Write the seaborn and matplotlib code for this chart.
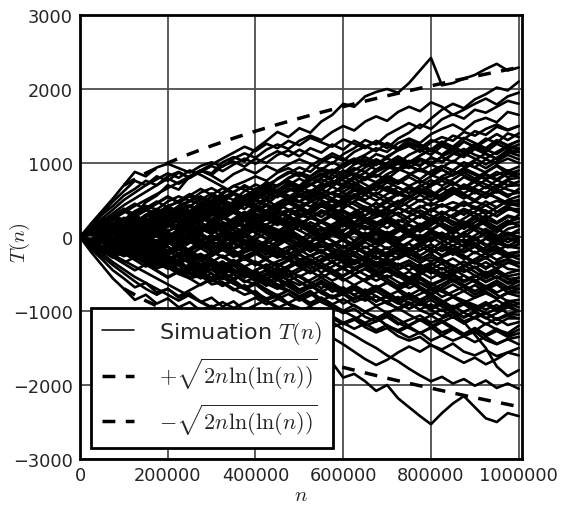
import matplotlib
matplotlib.use('Agg')
import matplotlib.pyplot as plt
import seaborn as sns
import pandas as pd
from matplotlib.lines import Line2D

# sample points of the walks (every 25000 steps)
n_vals = list(range(0, 1000001, 25000))

# T(n), one list per walk
walks = [
    [0, 150, 90, 260, 380, 300, 470, 560, 700, 640, 820, 900, 860, 1010, 1080, 1020, 1190, 1300, 1420, 1350, 1470, 1410, 1560, 1650, 1800, 1760, 1900, 1960, 2000, 1950, 2080, 2250, 2420, 2050, 2080, 2140, 2190, 2270, 2340, 2250, 2290],
    [0, -80, 40, 170, 120, 260, 200, 330, 410, 350, 280, 390, 450, 560, 500, 620, 710, 650, 790, 880, 820, 960, 1050, 990, 1120, 1200, 1310, 1250, 1380, 1460, 1540, 1470, 1600, 1720, 1800, 1740, 1860, 1930, 2020, 1980, 2100],
    [0, 180, 350, 520, 700, 880, 820, 940, 990, 930, 870, 960, 1010, 950, 1060, 1130, 1070, 1180, 1250, 1190, 1300, 1370, 1310, 1420, 1500, 1440, 1560, 1630, 1570, 1690, 1760, 1700, 1820, 1760, 1650, 1720, 1800, 1870, 1790, 1900, 1950],
    [0, -60, 90, 30, 180, 260, 190, 320, 270, 400, 480, 550, 470, 600, 690, 640, 560, 700, 780, 860, 940, 880, 1010, 1090, 1030, 1150, 1220, 1290, 1200, 1330, 1410, 1520, 1460, 1590, 1660, 1600, 1720, 1680, 1760, 1840, 1800],
    [0, 130, 60, -20, 90, 40, 160, 250, 330, 280, 210, 340, 420, 370, 480, 560, 630, 580, 700, 760, 690, 820, 900, 850, 960, 1040, 1110, 1200, 1150, 1270, 1330, 1270, 1390, 1460, 1520, 1440, 1560, 1610, 1550, 1690, 1650],
    [0, -110, -40, 80, 10, 140, 230, 170, 290, 370, 300, 420, 500, 440, 360, 470, 550, 630, 590, 700, 650, 760, 840, 910, 860, 980, 1040, 970, 1090, 1170, 1230, 1150, 1280, 1350, 1300, 1420, 1370, 1460, 1520, 1450, 1500],
    [0, 70, -50, 40, 180, 120, 60, 170, 250, 190, 320, 380, 460, 400, 330, 450, 520, 600, 540, 660, 620, 700, 780, 720, 850, 930, 880, 990, 1060, 1000, 1110, 1180, 1110, 1230, 1160, 1290, 1220, 1330, 1270, 1400, 1350],
    [0, -90, -170, -60, 50, -20, 110, 60, 180, 250, 190, 300, 240, 350, 430, 380, 500, 440, 560, 620, 690, 610, 720, 680, 790, 860, 800, 910, 980, 920, 1030, 960, 1080, 1010, 1120, 1190, 1110, 1060, 1150, 1230, 1200],
    [0, 160, 320, 480, 620, 760, 700, 820, 760, 870, 800, 900, 830, 740, 850, 920, 860, 960, 890, 980, 1050, 990, 910, 1010, 940, 1030, 960, 1050, 980, 900, 990, 1060, 1000, 1080, 1010, 1130, 1060, 980, 1070, 1150, 1100],
    [0, -40, 100, 180, 110, 30, 140, 220, 160, 80, 190, 270, 330, 260, 380, 450, 400, 320, 430, 510, 470, 560, 640, 580, 700, 650, 580, 690, 770, 720, 840, 910, 850, 960, 890, 1010, 940, 1050, 990, 1060, 1000],
    [0, 90, 190, 120, 40, 150, 230, 300, 250, 370, 430, 360, 480, 540, 600, 530, 650, 720, 680, 790, 860, 800, 730, 840, 770, 690, 800, 740, 850, 920, 860, 780, 890, 960, 900, 1000, 940, 870, 960, 850, 900],
    [0, -130, -60, -150, -70, 50, -10, 100, 170, 240, 180, 110, 220, 290, 360, 300, 420, 350, 460, 540, 480, 410, 520, 600, 550, 660, 600, 710, 650, 580, 690, 760, 700, 820, 890, 830, 760, 850, 780, 870, 800],
    [0, 110, 30, -60, 20, -80, 30, 130, 70, 180, 260, 200, 310, 380, 330, 250, 360, 440, 390, 500, 570, 630, 560, 680, 600, 520, 630, 700, 650, 760, 690, 610, 720, 800, 740, 660, 770, 710, 650, 760, 700],
    [0, 50, -70, -10, -130, -40, -170, -90, 20, -50, 60, 140, 90, 200, 150, 260, 320, 250, 180, 290, 360, 300, 420, 490, 430, 540, 470, 400, 510, 580, 520, 640, 570, 490, 600, 680, 620, 540, 650, 570, 600],
    [0, -60, 40, -70, 30, 150, 220, 160, 280, 210, 130, 240, 310, 260, 180, 290, 350, 420, 360, 480, 550, 490, 410, 520, 450, 560, 630, 570, 680, 610, 540, 650, 590, 510, 620, 560, 480, 590, 530, 460, 500],
    [0, 140, 220, 290, 230, 350, 420, 370, 480, 550, 490, 600, 660, 580, 690, 750, 820, 760, 870, 930, 850, 770, 840, 760, 680, 790, 710, 630, 740, 670, 590, 700, 620, 540, 650, 580, 500, 600, 530, 450, 420],
    [0, -100, -190, -130, -240, -170, -80, -160, -60, 40, -30, 80, 150, 90, 200, 130, 60, 170, 240, 180, 300, 250, 360, 300, 230, 340, 410, 350, 280, 390, 330, 260, 370, 440, 380, 300, 410, 350, 280, 390, 330],
    [0, 80, -30, -110, -40, -150, -80, -200, -130, -230, -160, -60, -140, -40, 60, 0, 110, 50, -30, 80, 160, 110, 220, 150, 80, 190, 260, 200, 120, 230, 170, 90, 200, 270, 210, 140, 250, 190, 110, 200, 250],
    [0, -50, 60, -20, 90, 170, 100, 210, 280, 220, 150, 260, 190, 100, 20, 130, 60, -30, 80, 160, 90, 200, 130, 60, -20, 90, 20, -70, 40, 120, 60, -20, 90, 30, -50, 60, 140, 80, 0, 110, 150],
    [0, 120, 40, 160, 90, 200, 270, 340, 280, 400, 330, 250, 360, 290, 200, 120, 230, 150, 60, 170, 90, 10, 120, 50, -40, 70, 150, 80, 0, 110, 30, -60, 50, -30, 80, 170, 90, 10, -60, 40, 60],
    [0, -140, -70, -190, -120, -240, -320, -260, -370, -300, -220, -330, -260, -170, -250, -160, -70, -150, -60, 30, -50, 60, -20, 80, 160, 100, 10, 120, 50, -30, 80, -10, 90, 20, -60, 40, -40, 70, -20, 60, 0],
    [0, 60, 150, 80, 190, 120, 40, -60, 20, -90, -20, -130, -60, 40, -40, 70, 140, 60, -30, 80, 10, -80, 30, -50, -140, -60, -150, -80, 20, -70, 30, -50, 50, -40, -120, -30, -110, -20, -100, -10, -80],
    [0, -70, -160, -90, -200, -280, -210, -320, -250, -160, -240, -150, -60, -130, -40, 50, -30, -110, -200, -130, -220, -140, -50, -130, -30, 60, -20, -100, -20, -110, -190, -120, -210, -130, -50, -130, -220, -140, -60, -130, -150],
    [0, 100, 190, 260, 200, 310, 380, 310, 240, 350, 280, 200, 110, 190, 100, 20, 120, 40, -50, 40, -40, -130, -60, -150, -230, -160, -70, -150, -230, -160, -250, -180, -100, -190, -120, -210, -130, -230, -160, -260, -200],
    [0, -40, -150, -220, -160, -270, -340, -420, -350, -460, -390, -500, -430, -350, -440, -520, -450, -370, -460, -390, -300, -380, -300, -210, -290, -370, -290, -200, -280, -190, -270, -350, -270, -360, -290, -380, -300, -220, -310, -240, -300],
    [0, 90, 20, -70, 10, -90, -180, -110, -30, -130, -60, -150, -240, -170, -260, -190, -110, -200, -280, -210, -300, -370, -310, -230, -320, -240, -330, -410, -340, -430, -360, -450, -380, -300, -390, -470, -400, -490, -420, -340, -400],
    [0, -120, -60, -170, -100, -20, -110, -40, -130, -220, -300, -230, -310, -390, -310, -400, -330, -420, -500, -420, -340, -430, -350, -440, -530, -450, -380, -470, -550, -480, -570, -490, -410, -500, -430, -520, -600, -520, -440, -530, -500],
    [0, 40, 130, 60, 170, 100, 210, 130, 40, -50, 20, -80, -160, -90, -180, -260, -190, -280, -220, -310, -380, -320, -410, -340, -430, -500, -430, -520, -460, -540, -470, -560, -640, -580, -500, -590, -520, -610, -540, -630, -600],
    [0, -90, -20, -130, -210, -280, -220, -330, -410, -340, -450, -380, -300, -390, -460, -540, -470, -560, -490, -580, -650, -580, -500, -590, -520, -430, -510, -590, -520, -610, -690, -620, -710, -640, -560, -650, -730, -660, -750, -680, -700],
    [0, 150, 80, 200, 130, 40, 150, 80, -10, -90, -20, -110, -200, -130, -220, -290, -220, -310, -380, -310, -400, -470, -400, -490, -420, -510, -590, -520, -610, -680, -610, -700, -780, -710, -800, -730, -820, -740, -830, -760, -800],
    [0, -80, -170, -110, -220, -150, -260, -340, -280, -390, -460, -390, -500, -570, -500, -610, -540, -630, -700, -630, -720, -650, -740, -820, -750, -840, -770, -690, -780, -860, -790, -880, -810, -900, -980, -910, -1000, -920, -850, -940, -900],
    [0, 60, -50, -130, -60, -170, -100, -210, -280, -360, -290, -400, -330, -420, -500, -430, -540, -610, -550, -640, -720, -650, -740, -670, -760, -840, -780, -870, -800, -890, -970, -900, -990, -1070, -1000, -1090, -1020, -1100, -1030, -950, -1000],
    [0, -110, -40, -150, -230, -160, -270, -200, -310, -240, -350, -420, -350, -460, -390, -480, -560, -490, -580, -510, -600, -680, -610, -700, -780, -710, -800, -730, -820, -900, -830, -920, -850, -940, -1020, -1150, -1320, -1500, -1750, -1880, -1800],
    [0, -60, -150, -90, -200, -270, -350, -280, -390, -460, -540, -470, -580, -650, -580, -690, -620, -710, -790, -720, -810, -890, -820, -910, -840, -930, -1010, -940, -1030, -960, -1050, -1130, -1060, -1150, -1080, -1170, -1090, -1180, -1100, -1190, -1150],
    [0, -200, -380, -560, -700, -850, -780, -900, -830, -950, -880, -1000, -930, -1050, -980, -1100, -1030, -1150, -1080, -1200, -1130, -1050, -1140, -1070, -1160, -1240, -1170, -1260, -1190, -1280, -1210, -1300, -1230, -1150, -1240, -1320, -1250, -1340, -1270, -1350, -1300],
    [0, -50, -140, -80, -190, -120, -230, -310, -390, -320, -430, -510, -590, -520, -630, -700, -780, -860, -940, -1020, -1100, -1180, -1270, -1360, -1450, -1550, -1650, -1730, -1660, -1560, -1480, -1550, -1460, -1540, -1620, -1700, -1630, -1720, -1650, -1560, -1600],
    [0, 70, -20, -110, -50, -160, -240, -310, -250, -360, -430, -510, -440, -550, -630, -700, -640, -750, -830, -910, -1000, -940, -1060, -1150, -1250, -1330, -1420, -1500, -1600, -1680, -1780, -1870, -1950, -1890, -1980, -1920, -2010, -1940, -2040, -1980, -2050],
    [0, -90, -170, -110, -220, -300, -240, -350, -430, -370, -480, -560, -490, -620, -720, -650, -780, -870, -960, -1100, -1250, -1400, -1550, -1700, -1900, -1850, -1950, -2080, -2000, -2180, -2300, -2420, -2530, -2380, -2250, -2150, -2300, -2450, -2500, -2380, -2420],
    [0, 120, 40, -50, 30, -80, -160, -90, -200, -130, -240, -320, -400, -330, -440, -520, -450, -560, -640, -720, -800, -730, -840, -920, -1000, -1080, -1160, -1090, -1200, -1280, -1360, -1290, -1400, -1330, -1250, -1340, -1420, -1350, -1440, -1380, -1450],
    [0, -60, -140, -220, -150, -80, -170, -90, 0, -80, 20, 110, 40, 130, 210, 150, 230, 300, 220, 140, 230, 160, 80, 170, 250, 180, 100, 190, 270, 200, 280, 360, 290, 210, 300, 380, 320, 250, 330, 410, 350],
    [0, 110, 200, 130, 240, 170, 80, 190, 270, 190, 110, 30, -50, 20, -70, -150, -80, -170, -250, -180, -100, -180, -100, -190, -270, -200, -290, -370, -300, -390, -320, -410, -490, -420, -500, -430, -520, -600, -530, -610, -550],
    [0, -70, 40, 130, 60, 170, 100, 220, 300, 240, 350, 280, 390, 470, 400, 510, 580, 660, 600, 710, 640, 560, 670, 750, 680, 790, 870, 810, 920, 990, 930, 1040, 970, 1090, 1160, 1100, 1210, 1150, 1260, 1190, 1250],
    [0, 50, -40, -120, -50, -150, -230, -170, -260, -340, -270, -370, -440, -370, -480, -400, -490, -570, -500, -590, -520, -610, -690, -620, -710, -780, -710, -800, -880, -810, -900, -980, -910, -1000, -930, -1020, -1100, -1030, -1110, -1040, -1050],
    [0, 90, 180, 100, 10, 120, 200, 130, 240, 310, 250, 360, 290, 400, 330, 440, 500, 430, 350, 460, 400, 320, 430, 500, 440, 550, 620, 550, 470, 580, 650, 580, 690, 760, 700, 810, 740, 660, 770, 700, 750],
    [0, -90, -10, 110, 30, -70, 40, 150, 70, -30, 80, 190, 100, 0, 110, 220, 130, 30, -60, 50, 160, 70, -40, 60, 170, 80, -20, 90, 200, 110, 10, 120, 230, 140, 40, 150, 250, 160, 60, 190, 300],
    [0, 70, 160, 60, -40, -130, -60, -170, -90, 20, 110, 40, -60, -150, -80, 20, -70, -160, -250, -170, -70, -160, -60, 40, -50, -140, -230, -140, -40, -130, -220, -310, -220, -120, -210, -300, -200, -290, -190, -280, -250],
    [0, -110, -20, 70, 160, 90, 190, 280, 200, 110, 200, 290, 210, 120, 220, 310, 230, 330, 250, 160, 260, 350, 270, 370, 290, 200, 290, 380, 300, 400, 320, 420, 340, 440, 360, 460, 380, 480, 400, 500, 550],
    [0, 100, 20, -70, -160, -80, -170, -260, -180, -270, -180, -90, -180, -270, -360, -280, -370, -290, -200, -290, -380, -300, -390, -480, -400, -310, -400, -490, -410, -500, -590, -510, -420, -510, -600, -520, -610, -700, -620, -710, -650],
    [0, 80, 170, 90, 0, 100, 190, 110, 210, 300, 220, 320, 240, 150, 250, 340, 260, 360, 450, 370, 280, 380, 470, 390, 490, 580, 500, 600, 520, 430, 530, 620, 540, 640, 730, 650, 750, 840, 760, 860, 850],
    [0, -60, -150, -240, -150, -60, -150, -240, -330, -250, -340, -260, -350, -440, -350, -260, -350, -440, -360, -450, -540, -460, -550, -470, -560, -650, -570, -480, -570, -660, -580, -670, -760, -680, -590, -680, -770, -690, -780, -870, -850],
    [0, 130, 50, 160, 80, -20, 90, 10, -90, 20, 130, 50, -50, 60, -40, 70, 180, 90, 0, 110, 20, -80, 30, 140, 50, -50, 60, -40, 70, -30, 80, -20, 90, -10, 100, 0, 110, 10, 120, 20, 100],
    [0, -130, -50, 40, -50, -150, -60, 30, -70, -170, -80, 20, -80, -180, -90, 10, -90, -190, -100, 0, -100, -200, -110, -210, -120, -220, -130, -230, -140, -240, -150, -250, -160, -260, -170, -270, -360, -280, -380, -300, -400],
    [0, 60, -30, 60, 150, 240, 160, 250, 170, 80, 170, 260, 180, 270, 360, 280, 190, 280, 370, 290, 380, 300, 210, 300, 390, 480, 400, 310, 400, 490, 410, 500, 420, 510, 600, 520, 610, 530, 620, 540, 650],
    [0, -40, 50, -40, -130, -220, -140, -230, -320, -240, -330, -420, -340, -250, -340, -430, -520, -440, -530, -450, -540, -630, -550, -640, -730, -650, -740, -660, -750, -840, -760, -850, -770, -860, -950, -870, -960, -880, -970, -890, -950],
    [0, 100, 190, 280, 200, 110, 200, 290, 380, 300, 210, 300, 390, 310, 400, 490, 410, 320, 410, 500, 590, 510, 600, 520, 610, 700, 620, 710, 800, 720, 810, 730, 820, 910, 830, 920, 1010, 930, 1020, 1110, 1050],
    [0, -80, 10, -80, -170, -90, -180, -100, -10, -100, -190, -110, -20, 70, -20, -110, -30, 60, -30, 60, 150, 60, -30, 80, -20, -120, -50, 40, -60, -150, -70, 30, -60, 50, -40, -130, -40, 60, -50, 40, -30],
    [0, 90, 0, -90, 0, 90, 180, 100, 10, 100, 190, 280, 200, 110, 20, 110, 200, 120, 30, 120, 210, 130, 40, 130, 220, 310, 230, 140, 230, 150, 60, 150, 240, 160, 70, 160, 250, 170, 80, 170, 200],
    [0, -100, -190, -110, -20, -110, -200, -290, -210, -120, -210, -300, -220, -130, -220, -310, -230, -140, -230, -320, -240, -330, -250, -340, -430, -350, -260, -350, -440, -360, -450, -370, -460, -550, -470, -380, -470, -560, -480, -570, -550],
    [0, 50, 140, 50, -40, 50, -40, 50, 140, 230, 150, 60, 150, 240, 330, 250, 160, 250, 340, 260, 170, 260, 350, 270, 180, 270, 360, 280, 370, 290, 200, 290, 380, 300, 390, 480, 400, 310, 400, 490, 480],
    [0, -70, -160, -250, -170, -260, -350, -270, -360, -450, -370, -460, -550, -470, -560, -480, -570, -660, -580, -670, -760, -680, -590, -680, -770, -690, -780, -870, -790, -880, -970, -890, -980, -900, -990, -1080, -1000, -1090, -1180, -1100, -1100],
    [0, 110, 200, 290, 210, 300, 390, 480, 400, 490, 580, 500, 590, 510, 420, 510, 600, 690, 610, 700, 790, 710, 800, 890, 810, 900, 990, 910, 1000, 1090, 1010, 1100, 1190, 1110, 1200, 1290, 1210, 1300, 1390, 1310, 1400],
    [0, -120, -210, -130, -220, -310, -400, -320, -410, -500, -420, -510, -600, -520, -610, -700, -620, -710, -800, -720, -810, -900, -820, -910, -1000, -920, -1010, -1100, -1020, -1110, -1200, -1120, -1210, -1130, -1220, -1310, -1230, -1320, -1240, -1330, -1250],
    [0, 40, -50, 40, 130, 50, 140, 60, -30, 60, 150, 70, 160, 80, -10, 80, 170, 90, 0, 90, 180, 100, 10, 100, 190, 110, 20, 110, 20, -70, 20, -70, -160, -70, 20, -70, 20, 110, 20, -70, 0],
    [0, -50, -140, -50, 40, -50, 40, 130, 220, 140, 230, 150, 60, 150, 240, 160, 250, 340, 260, 350, 270, 360, 450, 370, 460, 380, 290, 380, 470, 390, 480, 570, 490, 580, 670, 590, 680, 770, 690, 780, 800],
    [0, 90, 0, -90, 0, -90, -180, -100, -190, -110, -200, -290, -210, -120, -210, -300, -220, -310, -400, -320, -230, -320, -410, -330, -420, -510, -430, -520, -440, -530, -620, -540, -630, -720, -640, -730, -650, -740, -830, -750, -750],
    [0, -90, -180, -100, -190, -110, -20, 70, -10, 80, 170, 90, 180, 100, 10, 100, 190, 110, 200, 120, 210, 130, 220, 310, 230, 140, 230, 320, 240, 330, 250, 160, 250, 340, 260, 350, 270, 360, 280, 370, 380],
    [0, 120, 210, 130, 220, 140, 50, 140, 60, -30, 60, -30, -120, -40, 50, -40, -130, -50, 40, -50, -140, -60, 30, -60, -150, -70, 20, -70, -160, -80, -170, -90, 0, -90, -180, -100, -10, -100, -190, -110, -150],
    [0, 60, 150, 240, 160, 70, 160, 250, 340, 260, 170, 260, 350, 270, 360, 450, 370, 280, 370, 460, 380, 470, 560, 480, 390, 480, 570, 490, 580, 670, 590, 680, 770, 690, 780, 870, 790, 880, 970, 890, 950],
    [0, -90, 0, 90, 180, 100, 190, 110, 20, -70, 20, -70, -160, -80, 10, -80, -170, -90, 0, -90, -180, -100, -190, -280, -200, -110, -200, -290, -210, -300, -220, -310, -230, -320, -410, -330, -420, -340, -430, -350, -350],
    [0, 90, 180, 270, 360, 450, 370, 460, 550, 470, 560, 650, 570, 660, 580, 490, 580, 500, 410, 500, 420, 330, 420, 340, 250, 340, 260, 170, 260, 180, 90, 180, 100, 190, 110, 200, 120, 210, 130, 220, 150],
    [0, -90, -180, -270, -360, -450, -370, -460, -550, -470, -560, -650, -570, -660, -580, -490, -580, -500, -410, -500, -420, -330, -420, -340, -250, -340, -260, -170, -260, -180, -90, -180, -100, -190, -110, -200, -120, -210, -130, -220, -200],
    [0, -60, 30, 120, 40, 130, 220, 140, 230, 320, 240, 330, 420, 340, 430, 520, 440, 530, 620, 540, 630, 720, 640, 730, 820, 740, 650, 740, 830, 750, 840, 930, 850, 940, 1030, 950, 1040, 1130, 1050, 1140, 1150],
    [0, 70, 160, 80, 170, 90, 0, -90, 0, -90, -180, -100, -190, -280, -200, -290, -380, -300, -390, -310, -400, -490, -410, -500, -590, -510, -600, -690, -610, -700, -790, -710, -800, -890, -810, -900, -990, -910, -1000, -920, -1000],
    [0, -100, -190, -280, -200, -290, -210, -120, -30, -120, -40, 50, -40, 50, 140, 60, 150, 240, 160, 250, 170, 260, 350, 270, 360, 280, 370, 460, 380, 470, 560, 480, 570, 490, 580, 670, 590, 680, 600, 690, 700],
    [0, 110, 200, 290, 380, 300, 210, 120, 210, 120, 30, -60, 30, -60, -150, -60, -150, -240, -150, -240, -330, -250, -340, -260, -350, -440, -360, -450, -370, -460, -550, -470, -560, -480, -570, -660, -580, -670, -590, -680, -600],
    [0, -50, 40, -50, -140, -230, -150, -240, -330, -250, -160, -70, -160, -70, 20, -70, 20, 110, 20, 110, 200, 110, 200, 290, 200, 110, 200, 110, 20, 110, 200, 290, 200, 290, 200, 110, 200, 290, 200, 290, 250],
    [0, 80, 170, 260, 350, 270, 360, 450, 540, 460, 550, 470, 380, 470, 380, 290, 380, 290, 200, 290, 200, 110, 200, 110, 20, 110, 20, -70, 20, -70, -160, -70, -160, -250, -160, -250, -340, -430, -340, -430, -450],
    [0, -80, -170, -260, -350, -270, -360, -450, -540, -460, -550, -470, -380, -470, -380, -290, -380, -290, -200, -290, -200, -110, -200, -110, -20, -110, -20, 70, -20, 70, 160, 70, 160, 250, 160, 250, 340, 430, 340, 430, 450],
    [0, 60, -30, -120, -30, 60, -30, -120, -210, -120, -30, 60, 150, 60, 150, 240, 150, 60, -30, 60, -30, -120, -210, -120, -30, -120, -210, -300, -210, -120, -210, -120, -30, 60, -30, 60, -30, -120, -30, -120, -50],
    [0, 130, 220, 150, 260, 190, 300, 380, 310, 420, 350, 460, 540, 470, 580, 510, 620, 700, 630, 740, 670, 780, 860, 790, 900, 830, 940, 1020, 950, 1060, 990, 1100, 1180, 1110, 1220, 1150, 1260, 1190, 1300, 1230, 1300],
    [0, -60, -180, -230, -150, -270, -330, -420, -380, -500, -560, -520, -640, -610, -700, -780, -730, -850, -800, -900, -980, -1050, -970, -1100, -1180, -1120, -1020, -1080, -1200, -1260, -1190, -1110, -1180, -1290, -1230, -1320, -1270, -1170, -1250, -1300, -1200],
    [0, 80, 30, -60, -20, -130, -200, -150, -260, -320, -270, -380, -450, -390, -500, -590, -640, -560, -680, -730, -820, -760, -880, -950, -1030, -970, -1080, -1140, -1050, -1160, -1230, -1300, -1220, -1330, -1400, -1340, -1280, -1390, -1450, -1380, -1350],
    [0, -120, -70, -190, -260, -200, -310, -380, -330, -440, -500, -460, -570, -640, -590, -700, -760, -830, -780, -900, -960, -1040, -990, -1090, -1170, -1110, -1220, -1290, -1230, -1340, -1400, -1350, -1460, -1520, -1440, -1550, -1600, -1530, -1610, -1560, -1500],
    [0, 40, 130, 70, -20, -90, -40, -150, -220, -170, -280, -230, -340, -410, -350, -460, -520, -450, -560, -500, -610, -690, -630, -740, -680, -790, -860, -800, -900, -960, -880, -990, -1050, -980, -1090, -1010, -940, -1040, -970, -860, -900],
    [0, -100, -160, -110, -210, -150, -260, -200, -310, -250, -360, -430, -380, -490, -440, -550, -480, -590, -660, -600, -710, -650, -760, -830, -770, -880, -820, -930, -870, -980, -910, -850, -950, -880, -810, -890, -820, -760, -830, -750, -700],
    [0, 60, 150, 110, 200, 130, 240, 190, 80, 140, 30, -40, 20, -90, -160, -100, -210, -150, -260, -200, -310, -250, -180, -290, -230, -340, -280, -390, -330, -440, -380, -490, -430, -360, -460, -400, -330, -410, -340, -300, -350],
    [0, 90, 50, 160, 230, 180, 290, 360, 310, 420, 490, 440, 550, 500, 610, 680, 630, 740, 690, 800, 870, 820, 930, 880, 990, 1060, 1010, 1120, 1070, 1180, 1250, 1200, 1310, 1260, 1370, 1320, 1430, 1380, 1490, 1440, 1500],
    [0, -70, -20, -110, -50, 60, 10, 120, 190, 140, 250, 200, 310, 380, 330, 440, 390, 500, 570, 520, 630, 580, 690, 760, 710, 820, 770, 880, 950, 900, 1010, 960, 1070, 1020, 1130, 1080, 1190, 1120, 1060, 1180, 1150],
    [0, 110, 180, 120, 230, 170, 280, 350, 290, 400, 340, 450, 390, 500, 440, 550, 490, 600, 540, 650, 590, 530, 640, 580, 520, 630, 570, 680, 620, 560, 670, 610, 550, 660, 600, 710, 650, 590, 700, 640, 600],
    [0, -40, -130, -80, -190, -130, -240, -180, -290, -230, -170, -280, -220, -160, -270, -210, -150, -60, -120, -30, -90, 0, -60, 30, -30, 60, 0, 90, 30, 120, 60, 150, 90, 180, 120, 210, 150, 240, 180, 270, 250],
    [0, 130, 70, 180, 240, 190, 300, 250, 360, 300, 410, 350, 290, 400, 340, 280, 220, 330, 270, 210, 150, 260, 200, 140, 80, 190, 130, 70, 10, 120, 60, 0, -60, 50, -10, -70, -130, -20, -80, -140, -100],
    [0, -50, 40, -20, 70, 10, -60, 30, -30, -100, -40, -120, -60, -150, -90, -170, -110, -200, -140, -230, -170, -260, -200, -290, -230, -320, -260, -350, -290, -380, -320, -410, -350, -440, -380, -470, -410, -530, -470, -560, -600],
    [0, 100, 170, 240, 190, 300, 360, 310, 420, 470, 410, 520, 460, 400, 340, 280, 220, 160, 100, 40, -20, -80, -140, -90, -200, -260, -320, -380, -440, -500, -560, -620, -680, -740, -800, -860, -920, -980, -920, -1040, -1000],
    [0, -110, -60, -170, -230, -180, -290, -350, -300, -240, -180, -120, -60, 0, 60, 120, 180, 240, 300, 360, 420, 480, 540, 600, 660, 720, 780, 840, 780, 900, 960, 900, 840, 780, 840, 900, 840, 780, 840, 900, 850],
    [0, 70, 130, 80, -10, 50, -40, 20, -70, -10, 50, 110, 170, 120, 180, 240, 300, 250, 310, 370, 320, 260, 320, 380, 330, 270, 210, 270, 330, 390, 340, 400, 460, 410, 470, 420, 480, 430, 490, 440, 450],
    [0, -30, -120, -180, -130, -240, -300, -360, -310, -370, -430, -490, -440, -500, -560, -510, -450, -390, -330, -270, -210, -150, -210, -270, -210, -150, -210, -270, -330, -270, -210, -270, -330, -270, -210, -270, -330, -270, -210, -270, -250],
    [0, 150, 300, 420, 560, 650, 760, 700, 820, 880, 800, 900, 840, 960, 1020, 950, 1060, 1000, 1110, 1170, 1090, 1200, 1140, 1250, 1180, 1300, 1230, 1160, 1270, 1200, 1320, 1250, 1180, 1290, 1220, 1340, 1270, 1200, 1310, 1240, 1300],
    [0, -160, -300, -450, -560, -680, -620, -750, -700, -820, -760, -880, -820, -940, -870, -990, -920, -850, -960, -890, -820, -930, -860, -790, -900, -830, -760, -870, -800, -730, -840, -770, -700, -810, -740, -670, -780, -710, -640, -750, -700],
    [0, 120, 250, 370, 500, 600, 700, 780, 860, 800, 900, 840, 760, 680, 600, 700, 620, 540, 640, 560, 480, 580, 500, 420, 520, 440, 360, 460, 380, 300, 400, 320, 240, 340, 260, 180, 280, 200, 120, 220, 150],
    [0, -130, -260, -380, -490, -600, -700, -780, -700, -800, -720, -640, -560, -660, -580, -500, -600, -520, -440, -540, -460, -380, -480, -400, -320, -420, -340, -260, -360, -280, -200, -300, -220, -140, -240, -160, -80, -180, -100, -20, -50],
    [0, 100, 210, 320, 430, 520, 610, 700, 790, 720, 800, 880, 960, 890, 980, 1060, 990, 1080, 1160, 1090, 1180, 1110, 1040, 1130, 1060, 990, 1080, 1010, 940, 1030, 960, 890, 980, 910, 840, 930, 860, 790, 880, 810, 850],
    [0, -100, -220, -340, -440, -540, -620, -700, -780, -860, -780, -870, -950, -880, -960, -890, -820, -910, -840, -770, -860, -790, -720, -810, -740, -670, -760, -690, -620, -710, -640, -570, -660, -590, -520, -610, -540, -470, -560, -490, -450],
    [0, 70, 150, 240, 330, 420, 500, 580, 660, 740, 820, 900, 980, 1060, 1140, 1220, 1160, 1260, 1200, 1300, 1240, 1340, 1280, 1220, 1320, 1260, 1200, 1300, 1240, 1180, 1280, 1220, 1160, 1260, 1200, 1140, 1240, 1180, 1120, 1220, 1180],
    [0, -80, -160, -240, -320, -400, -480, -560, -640, -720, -800, -880, -960, -1040, -1120, -1060, -1160, -1100, -1200, -1140, -1240, -1180, -1120, -1220, -1160, -1100, -1200, -1140, -1080, -1180, -1120, -1060, -1160, -1100, -1040, -1140, -1080, -1020, -1120, -1060, -1100],
]

# dashed bound
bound_n = [100000, 150000, 200000, 250000, 300000, 350000, 400000, 450000, 500000,
           550000, 600000, 650000, 700000, 750000, 800000, 850000, 900000, 950000, 1000000]
bound_up = [699, 862, 1000, 1123, 1233, 1335, 1430, 1520, 1604,
            1685, 1762, 1836, 1908, 1977, 2043, 2108, 2171, 2232, 2292]
bound_low = [-v for v in bound_up]

x_ticks = [0, 200000, 400000, 600000, 800000, 1000000]
x_tick_labels = ['0', '200000', '400000', '600000', '800000', '1000000']
y_ticks = [-3000, -2000, -1000, 0, 1000, 2000, 3000]

rows = []
for i, w in enumerate(walks):
    for n, t in zip(n_vals, w):
        rows.append((i, n, t))
df = pd.DataFrame(rows, columns=['walk', 'n', 'T'])

sns.set_style('white')
plt.rcParams['font.family'] = ['DejaVu Sans']
plt.rcParams['mathtext.fontset'] = 'cm'

fig = plt.figure(figsize=(5.61, 5.06), dpi=100)
ax = fig.add_axes([80 / 561, 46 / 506, 442 / 561, 444 / 506])

up_line, = ax.plot(bound_n, bound_up, color='k', lw=2.5, dashes=(3.7, 3.0), zorder=2)
low_line, = ax.plot(bound_n, bound_low, color='k', lw=2.5, dashes=(3.7, 3.0), zorder=2)
sns.lineplot(data=df, x='n', y='T', units='walk', estimator=None, color='k',
             lw=1.9, ax=ax, legend=False, zorder=3)

ax.set_xlim(0, 1007500)
ax.set_ylim(-3000, 3000)
ax.set_xticks(x_ticks)
ax.set_xticklabels(x_tick_labels)
ax.set_yticks(y_ticks)
ax.grid(True, color='0.3', lw=1.3)
ax.set_axisbelow(True)
ax.tick_params(labelsize=12.8, length=0, pad=5)
for s in ax.spines.values():
    s.set_color('k')
    s.set_linewidth(2)

ax.set_xlabel('$n$', fontsize=15, labelpad=0)
ax.set_ylabel('$T(n)$', fontsize=15)
ax.yaxis.set_label_coords(-0.109, 0.49)

sim_handle = Line2D([], [], color='k', lw=1.1)
leg = ax.legend([sim_handle, up_line, low_line],
                ['Simuation $T(n)$', r'$+\sqrt{2n\ln(\ln(n))}$', r'$-\sqrt{2n\ln(\ln(n))}$'],
                loc='lower left', fontsize=16, fancybox=False, framealpha=1,
                edgecolor='k', handlelength=1.45, handletextpad=1.1,
                borderpad=0.5, borderaxespad=0.5, labelspacing=0.45)
leg.get_frame().set_linewidth(2)
leg.set_zorder(5)

fig.savefig('out.png', dpi=100)
